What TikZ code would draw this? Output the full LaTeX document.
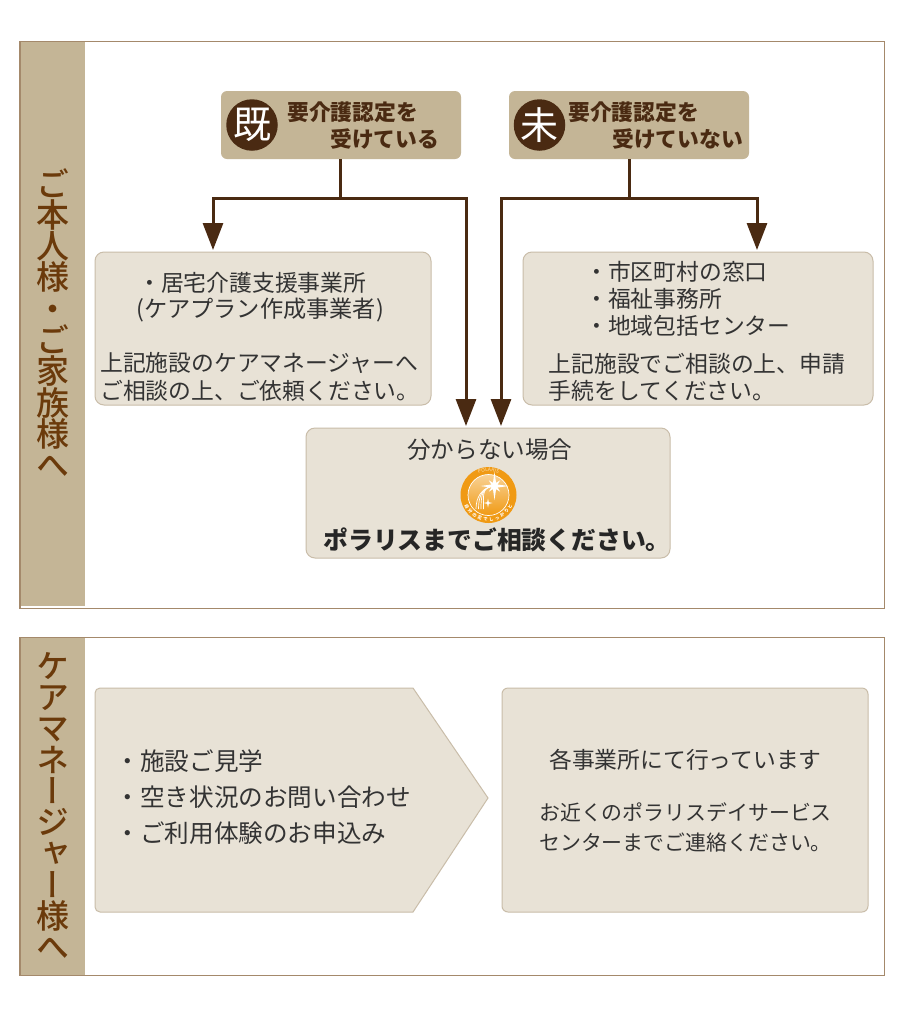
\documentclass[tikz,border=0pt]{standalone}
\usepackage{fontspec}
\usetikzlibrary{arrows.meta,decorations.text}
\setmainfont{Noto Sans CJK JP}
\newfontfamily\sidefont[RawFeature=+vert]{Noto Sans CJK JP Medium}
\definecolor{framecol}{HTML}{A4896B}
\definecolor{sidecol}{HTML}{C4B596}
\definecolor{boxcol}{HTML}{E8E2D6}
\definecolor{edgecol}{HTML}{C9BDA9}
\definecolor{flowcol}{HTML}{4A2A12}
\definecolor{sidetextcol}{HTML}{6B3A0B}
\definecolor{inkcol}{HTML}{333333}
\definecolor{logocol}{HTML}{F09A14}
\newcommand{\fs}[1]{\fontsize{#1}{#1}\selectfont}

\begin{document}
\begin{tikzpicture}[x=1pt,y=-1pt]
\tikzset{frame/.style={draw=framecol,line width=1pt,fill=white},
sidebar/.style={fill=sidecol},
sidetext/.style={text=sidetextcol,align=center,inner sep=0pt,font=\sidefont\fontsize{33}{31.3}\selectfont},
headbox/.style={fill=sidecol,rounded corners=6pt,inner sep=0pt,minimum width=240pt,minimum height=68pt},
itembox/.style={fill=boxcol,draw=edgecol,line width=1pt,rounded corners=9pt,inner sep=0pt},
badge/.style={circle,fill=flowcol,text=white,inner sep=0pt,minimum size=51.5pt,font=\fs{38}},
headtext/.style={anchor=west,inner sep=0pt,text=flowcol,font=\fs{21.8}\bfseries},
bodytext/.style={anchor=west,inner sep=0pt,text=inkcol,font=\fs{22.8}},
flowline/.style={draw=flowcol,line width=3pt},
flowarrow/.style={flowline,-{Triangle[length=27pt,width=20pt]},shorten >=1.5pt},
}
\useasboundingbox (0,0) rectangle (900,1018);

\draw[frame] (19.5,41.5) rectangle (884.5,608);
\fill[sidebar] (20,42) rectangle (85,606);
\draw[framecol,line width=1.5pt] (20,608) -- (20,41.5) -- (85,41.5);
\node (sidea) [sidetext] at (53,323) {ご\\本\\人\\様\\・\\ご\\家\\族\\様\\へ};

\node (known) [headbox] at (341,125) {};
\node (unknown) [headbox] at (629,125) {};
\node (knownmark) [badge] at (252,125) {既};
\node (unknownmark) [badge] at (539.5,125) {未};
\node (knowna) [headtext] at (287,112) {要介護認定を};
\node (knownb) [headtext] at (330,139) {受けている};
\node (unknowna) [headtext] at (568,112) {要介護認定を};
\node (unknownb) [headtext] at (612,139) {受けていない};

\node (left) [itembox,minimum width=336pt,minimum height=153pt] at (263,328.5) {};
\node (right) [itembox,minimum width=350pt,minimum height=153pt] at (698,328.5) {};
\node (polaris) [itembox,minimum width=364pt,minimum height=130pt] at (488,493) {};

\coordinate (knownjoin) at (340,198);
\coordinate (knownl) at (213,198);
\coordinate (knownr) at (466,198);
\coordinate (unknownjoin) at (629,198);
\coordinate (unknownl) at (501,198);
\coordinate (unknownr) at (757,198);
\draw[flowarrow] (knownjoin |- known.south) -- (knownjoin) -- (knownl) -- (knownl |- left.north);
\draw[flowarrow] (knownjoin) -- (knownr) -- (knownr |- polaris.north);
\draw[flowarrow] (unknown.south) -- (unknownjoin) -- (unknownl) -- (unknownl |- polaris.north);
\draw[flowarrow] (unknownjoin) -- (unknownr) -- (unknownr |- right.north);

\node (lefta) [bodytext] at (138,283) {・居宅介護支援事業所};
\node (leftb) [bodytext,font=\fs{23.2}] at (136,310) {(ケアプラン作成事業者)};
\node (leftc) [bodytext] at (100,363) {上記施設のケアマネージャーへ};
\node (leftd) [bodytext] at (100,391) {ご相談の上、ご依頼ください。};

\node (righta) [bodytext] at (585,272) {・市区町村の窓口};
\node (rightb) [bodytext] at (585,299) {・福祉事務所};
\node (rightc) [bodytext] at (585,326) {・地域包括センター};
\node (rightd) [bodytext] at (548.5,364) {上記施設でご相談の上、申請};
\node (righte) [bodytext] at (548.5,391) {手続をしてください。};

\node (polarisa) [bodytext,font=\fs{23.6}] at (407,450) {分からない場合};
\node (polarisb) [bodytext,anchor=center,font=\fs{24.8}\bfseries,text=black!85] at (497,540) {ポラリスまでご相談ください。};

\node (logo) [circle,fill=logocol,inner sep=0pt,minimum size=56pt] at (488.5,495) {};
\shade[top color=logocol!45!white,bottom color=logocol] (logo.center) circle (20.5pt);
\draw[white,line width=.7pt] (logo.center) circle (20.5pt);
\foreach \ang/\len in {0/14,90/14,180/14,270/14,45/8,135/8,225/8,315/8}
  \fill[white,shift={(494.5,486)},rotate=\ang] (\len,0) -- (0,2) -- (0,-2) -- cycle;
\foreach \ang in {0,90,180,270}
  \fill[white,shift={(488,503)},rotate=\ang] (4.5,0) -- (0,1) -- (0,-1) -- cycle;
\foreach \low in {476,478.5,481,483.5}
  \draw[white,line width=.7pt] (\low,509) .. controls (\low,497) and (482,489) .. (490,487);
\begin{scope}[shift={(488.5,495)},y=1pt]
\path[decorate,decoration={text along path,text align=center,text={|\fs{5}\color{logocol!35!white}|POLARIS}}] (150:23.3) arc (150:30:23.3);
\path[decorate,decoration={text along path,text align={fit to path},text={|\fs{4.4}\bfseries\color{white}|自分の足でしっかりと}}] (203:26) arc (203:337:26);
\end{scope}

\draw[frame] (19.5,637.5) rectangle (884.5,975);
\fill[sidebar] (20,638) rectangle (85,975);
\draw[framecol,line width=1.5pt] (20,975) -- (20,637.5) -- (85,637.5);
\node (sideb) [sidetext] at (53,806) {ケ\\ア\\マ\\ネ\\ー\\ジ\\ャ\\ー\\様\\へ};

\draw[itembox,rounded corners=5pt] (95,688) -- (300,688) [sharp corners] -- (413,688) -- (488,798) -- (413,912) -- (300,912) [rounded corners=5pt] -- (95,912) -- cycle;
\node (flow) [itembox,rounded corners=6pt,minimum width=366pt,minimum height=224pt] at (685,800) {};

\node (flowa) [bodytext,font=\fs{24.6}] at (115.5,761) {・施設ご見学};
\node (flowb) [bodytext,font=\fs{24.6}] at (115.5,797) {・空き状況のお問い合わせ};
\node (flowc) [bodytext,font=\fs{24.6}] at (115.5,833) {・ご利用体験のお申込み};
\node (flowd) [bodytext] at (549,760) {各事業所にて行っています};
\node (flowe) [bodytext,font=\fs{20.9}] at (539,812) {お近くのポラリスデイサービス};
\node (flowf) [bodytext,font=\fs{20.9}] at (539,843) {センターまでご連絡ください。};
\end{tikzpicture}
\end{document}
